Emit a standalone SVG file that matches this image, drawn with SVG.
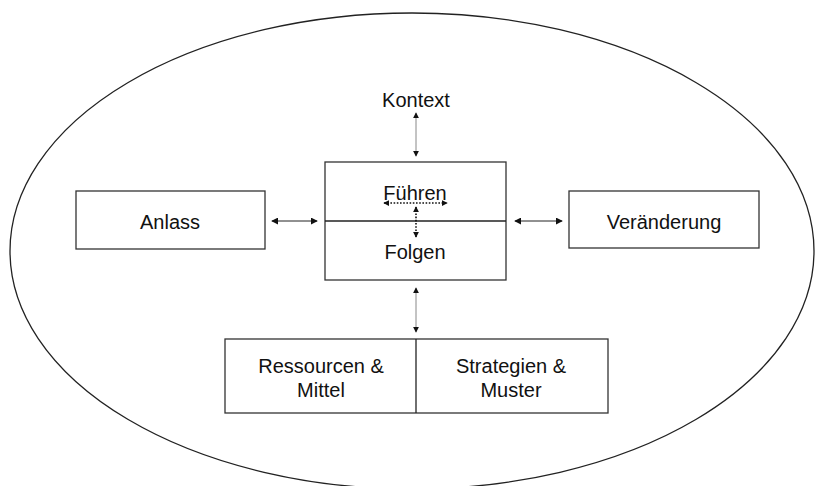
<svg xmlns="http://www.w3.org/2000/svg" width="815" height="486" viewBox="0 0 815 486">
<style>
.box{fill:#fff;stroke:#333;stroke-width:1.3}
.t{font-family:"Liberation Sans",Arial,sans-serif;font-size:20px;fill:#111;text-anchor:middle}
.c{stroke:#222;stroke-width:1;fill:none}
.cg{stroke:#888;stroke-width:1;fill:none}
.d{stroke:#111;stroke-width:1.6;stroke-dasharray:1.6 1.6;fill:none}
</style>
<defs>
<marker id="ah" viewBox="0 0 8 8" refX="7" refY="4" markerWidth="7" markerHeight="7" markerUnits="userSpaceOnUse" orient="auto-start-reverse">
<path d="M0,0 L8,4 L0,8 z" fill="#111"/>
</marker>
<marker id="ahs" viewBox="0 0 8 8" refX="7" refY="4" markerWidth="6" markerHeight="6" markerUnits="userSpaceOnUse" orient="auto-start-reverse">
<path d="M0,0 L8,4 L0,8 z" fill="#111"/>
</marker>
</defs>
<ellipse cx="412" cy="251" rx="402" ry="238" fill="none" stroke="#222" stroke-width="1.3"/>
<g id="anlass">
<rect class="box" x="76" y="191" width="189" height="58"/>
<text class="t" x="170" y="229">Anlass</text>
</g>
<g id="veraenderung">
<rect class="box" x="569" y="191" width="190" height="57"/>
<text class="t" x="664" y="229">Veränderung</text>
</g>
<g id="fuehren-folgen">
<rect class="box" x="325" y="162" width="181" height="118"/>
<line x1="325" y1="221" x2="506" y2="221" stroke="#222" stroke-width="1.3"/>
<text class="t" x="415" y="200">Führen</text>
<text class="t" x="415" y="259">Folgen</text>
</g>
<g id="kontext">
<text class="t" x="416" y="107">Kontext</text>
</g>
<g id="ressourcen-strategien">
<rect class="box" x="225" y="339" width="383" height="74"/>
<line x1="416" y1="339" x2="416" y2="413" stroke="#222" stroke-width="1.3"/>
<text class="t" x="321" y="373">Ressourcen &amp;</text>
<text class="t" x="321" y="397">Mittel</text>
<text class="t" x="511" y="373">Strategien &amp;</text>
<text class="t" x="511" y="397">Muster</text>
</g>
<g id="connectors">
<line class="cg" x1="416" y1="113" x2="416" y2="156" marker-start="url(#ahs)" marker-end="url(#ahs)"/>
<line class="cg" x1="416" y1="288" x2="416" y2="332" marker-start="url(#ahs)" marker-end="url(#ahs)"/>
<line class="c" x1="272" y1="221" x2="317" y2="221" marker-start="url(#ah)" marker-end="url(#ah)"/>
<line class="c" x1="515" y1="221" x2="562" y2="221" marker-start="url(#ah)" marker-end="url(#ah)"/>
<line class="d" x1="384" y1="203" x2="447" y2="203" marker-start="url(#ahs)" marker-end="url(#ahs)"/>
<line class="d" x1="416" y1="207" x2="416" y2="237" marker-start="url(#ahs)" marker-end="url(#ahs)"/>
</g>
</svg>
